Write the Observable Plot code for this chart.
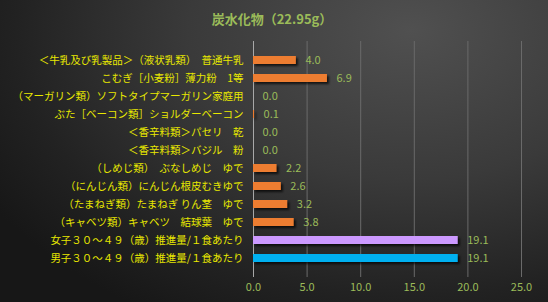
<!DOCTYPE html>
<html>
<head>
<meta charset="utf-8">
<script src="https://cdn.jsdelivr.net/npm/d3@7"></script>
<script src="https://cdn.jsdelivr.net/npm/@observablehq/plot@0.6"></script>
<style>
  html, body { margin: 0; padding: 0; }
  #wrap {
    width: 548px; height: 302px; overflow: hidden; position: relative;
    background: radial-gradient(ellipse 90% 110% at 75% 10%, #505050 0%, #3a3a3a 45%, #222 80%, #171717 100%);
    font-family: "Noto Sans CJK JP", sans-serif;
  }
  #title {
    height: 36px; line-height: 38px; text-align: center;
    color: #9bbb59; font-size: 13px; font-weight: bold; padding-right: 4px;
  }
  #chart svg { display: block; background: transparent; }
  #chart g[aria-label="bar"] { filter: drop-shadow(2px 2px 1.2px rgba(0,0,0,0.7)); }
</style>
</head>
<body>
<div id="wrap">
  <div id="title">炭水化物（22.95g）</div>
  <div id="chart"></div>
</div>
<script>
const categories = [
  "＜牛乳及び乳製品＞（液状乳類）　普通牛乳",
  "こむぎ［小麦粉］薄力粉　1等",
  "（マーガリン類）ソフトタイプマーガリン家庭用",
  "ぶた［ベーコン類］ショルダーベーコン",
  "＜香辛料類＞パセリ　乾",
  "＜香辛料類＞バジル　粉",
  "（しめじ類）　ぶなしめじ　ゆで",
  "（にんじん類）にんじん根皮むきゆで",
  "（たまねぎ類）たまねぎ りん茎　ゆで",
  "（キャベツ類）キャベツ　結球葉　ゆで",
  "女子３０～４９（歳）推進量/１食あたり",
  "男子３０～４９（歳）推進量/１食あたり"
];
const values = [4.0, 6.9, 0.0, 0.1, 0.0, 0.0, 2.2, 2.6, 3.2, 3.8, 19.1, 19.1];
const groups = ["食品","食品","食品","食品","食品","食品","食品","食品","食品","食品","女子","男子"];
const xTicks = [0, 5, 10, 15, 20, 25];

const data = categories.map((c, i) => ({category: c, value: values[i], group: groups[i]}));

const plot = Plot.plot({
  width: 548,
  height: 266,
  marginLeft: 253,
  marginRight: 27,
  marginTop: 5,
  marginBottom: 25,
  style: {background: "transparent", fontFamily: "\"Noto Sans CJK JP\", sans-serif", fontSize: "11px"},
  x: {domain: [0, 25], ticks: xTicks},
  y: {domain: categories, padding: 0.57},
  color: {domain: ["食品", "女子", "男子"], range: ["#ed7d31", "#cc99ff", "#00b0f0"]},
  marks: [
    Plot.gridX(xTicks, {stroke: "#6a6a6a", strokeOpacity: 1, strokeWidth: 1}),
    Plot.ruleX([0], {stroke: "#a8a8a8", strokeWidth: 1}),
    Plot.barX(data, {x: "value", y: "category", fill: "group"}),
    Plot.text(data, {x: "value", y: "category", text: d => d.value.toFixed(1), textAnchor: "start", dx: 9, fill: "#9bbb59", fontSize: 11}),
    Plot.axisY({tickSize: 0, tickPadding: 10, fill: "#e8e800", fontSize: 10.5, label: null}),
    Plot.axisX(xTicks, {tickSize: 0, tickPadding: 6, fill: "#9bbb59", fontSize: 11, tickFormat: d => d.toFixed(1), label: null})
  ]
});
document.getElementById("chart").appendChild(plot);
</script>
</body>
</html>
